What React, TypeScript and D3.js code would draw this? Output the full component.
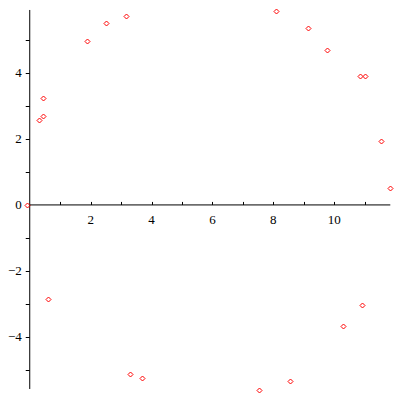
import * as d3 from 'd3';
import { useEffect, useRef } from 'react';

// Point coordinates
const xValues = [
  -0.08, 0.31, 0.44, 0.44, 1.89, 2.51, 3.17, 8.09, 9.15, 9.77, 10.85,
  11.02, 11.54, 11.84, 0.61, 3.3, 3.69, 7.54, 8.55, 10.3, 10.92,
];
const yValues = [
  0, 2.58, 2.7, 3.23, 4.96, 5.51, 5.73, 5.87, 5.35, 4.69, 3.9, 3.9, 1.93,
  0.51, -2.86, -5.13, -5.25, -5.62, -5.34, -3.68, -3.04,
];
const xTickLabels = [2, 4, 6, 8, 10];
const yTickLabels = [-4, -2, 0, 2, 4];

export default function App() {
  const chartRef = useRef<SVGSVGElement>(null);

  const width = 400;
  const height = 400;

  useEffect(() => {
    const svg = d3.select(chartRef.current);
    svg.selectAll('*').remove();

    const xScale = d3.scaleLinear().domain([-0.08, 11.84]).range([27.3, 390.3]);
    const yScale = d3.scaleLinear().domain([-5.62, 5.87]).range([390.3, 11.3]);
    const x0 = xScale(0);
    const y0 = yScale(0);
    const font = '"Liberation Serif", "Times New Roman", serif';

    // Axis lines
    svg.append('line')
      .attr('x1', x0).attr('x2', x0)
      .attr('y1', yScale(5.91)).attr('y2', yScale(-5.58))
      .attr('stroke', 'black').attr('stroke-width', 1);
    svg.append('line')
      .attr('x1', x0).attr('x2', xScale(11.84))
      .attr('y1', y0).attr('y2', y0)
      .attr('stroke', 'black').attr('stroke-width', 1);

    // x ticks at every unit, pointing up
    svg.selectAll('.xtick')
      .data(d3.range(1, 12))
      .enter()
      .append('line')
      .attr('x1', (d) => Math.round(xScale(d)) + 0.5)
      .attr('x2', (d) => Math.round(xScale(d)) + 0.5)
      .attr('y1', y0 - 3)
      .attr('y2', y0)
      .attr('stroke', 'black');

    // y ticks at every unit, pointing left
    svg.selectAll('.ytick')
      .data(d3.range(-5, 6).filter((d) => d !== 0))
      .enter()
      .append('line')
      .attr('x1', x0 - 4)
      .attr('x2', x0)
      .attr('y1', (d) => Math.round(yScale(d)) + 0.5)
      .attr('y2', (d) => Math.round(yScale(d)) + 0.5)
      .attr('stroke', 'black');

    svg.selectAll('.xlabel')
      .data(xTickLabels)
      .enter()
      .append('text')
      .attr('x', (d) => xScale(d))
      .attr('y', y0 + 19)
      .attr('text-anchor', 'middle')
      .attr('font-family', font)
      .attr('font-size', 13)
      .text((d) => String(d));

    svg.selectAll('.ylabel')
      .data(yTickLabels)
      .enter()
      .append('text')
      .attr('x', x0 - 8)
      .attr('y', (d) => yScale(d) + 4.5)
      .attr('text-anchor', 'end')
      .attr('font-family', font)
      .attr('font-size', 13)
      .text((d) => (d < 0 ? '\u2212' + Math.abs(d) : String(d)));

    // Diamond markers
    const r = 2.5;
    svg.selectAll('.pt')
      .data(xValues)
      .enter()
      .append('path')
      .attr('d', (d, i) => {
        const cx = Math.round(xScale(d)) + 0.5;
        const cy = Math.round(yScale(yValues[i])) + 0.5;
        return `M${cx},${cy - r}L${cx + r},${cy}L${cx},${cy + r}L${cx - r},${cy}Z`;
      })
      .attr('fill', 'none')
      .attr('stroke', 'red')
      .attr('stroke-width', 1);
  }, []);

  return (
    <svg
      ref={chartRef}
      width={width}
      height={height}
      style={{ position: 'absolute', left: 0, top: 0, background: 'white' }}
    />
  );
}
